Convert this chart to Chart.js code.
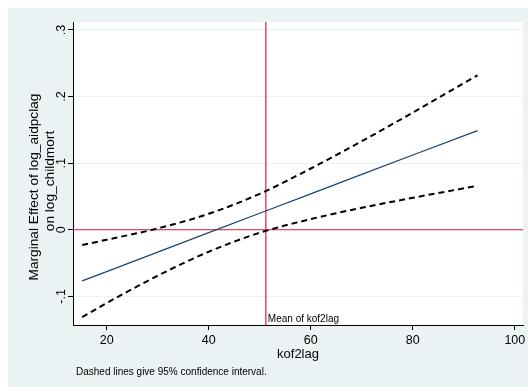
<!DOCTYPE html>
<html>
<head>
<meta charset="utf-8">
<script src="https://cdn.jsdelivr.net/npm/chart.js@4"></script>
<style>
  body { margin: 0; background: #fff; }
  canvas { display: block; }
</style>
</head>
<body>
<canvas id="me-chart" width="529" height="387"></canvas>
<script>
// values
const kof2lag = [15.2, 20, 30, 40, 50, 60, 70, 80, 92.7];
const effect = [-0.0767, -0.0627, -0.0335, -0.0044, 0.0248, 0.0540, 0.0832, 0.1123, 0.149];
const upperCI = [-0.023, -0.015, 0.002, 0.024, 0.054, 0.092, 0.133, 0.176, 0.232];
const lowerCI = [-0.131, -0.110, -0.069, -0.033, -0.0045, 0.016, 0.033, 0.048, 0.066];
const meanKof = 51.2;

const xTicks = [20, 40, 60, 80, 100];
const yTicks = [-0.1, 0, 0.1, 0.2, 0.3];
const yTickLabels = ['-.1', '0', '.1', '.2', '.3'];
const xRange = [13.4, 101.6];
const yRange = [-0.143, 0.312];

const FONT = "'Liberation Sans', Arial, Helvetica, sans-serif";
const BG = '#eaf2f3';
const RED = '#d81b45';

const pts = (ys) => kof2lag.map((x, i) => ({ x: x, y: ys[i] }));

// background + free text (axis titles, note, mean label)
const decor = {
  id: 'decor',
  beforeDraw(chart) {
    const c = chart.ctx, a = chart.chartArea;
    c.save();
    c.fillStyle = '#fff';
    c.fillRect(0, 0, chart.width, chart.height);
    c.fillStyle = BG;
    c.fillRect(8, 8, chart.width - 9, chart.height - 8);
    c.fillStyle = '#fff';
    c.fillRect(a.left, a.top, a.right - a.left, a.bottom - a.top);
    c.restore();
  },
  afterDraw(chart) {
    const c = chart.ctx;
    const xs = chart.scales.x;
    c.save();
    c.fillStyle = '#000';
    c.textBaseline = 'middle';
    c.textAlign = 'center';

    c.font = '13px ' + FONT;
    c.fillText('kof2lag', 298, 354);

    // two-line y title
    c.font = '13.7px ' + FONT;
    c.save();
    c.translate(34, 187);
    c.rotate(-Math.PI / 2);
    c.fillText('Marginal Effect of log_aidpclag', 0, 0);
    c.restore();
    c.save();
    c.translate(50, 181);
    c.rotate(-Math.PI / 2);
    c.fillText('on log_childmort', 0, 0);
    c.restore();

    c.textAlign = 'left';
    c.font = '10px ' + FONT;
    c.fillText('Dashed lines give 95% confidence interval.', 76, 372);

    c.textBaseline = 'alphabetic';
    c.fillText('Mean of kof2lag', xs.getPixelForValue(meanKof) + 2, 322);
    c.restore();
  }
};

new Chart(document.getElementById('me-chart'), {
  type: 'line',
  data: {
    datasets: [
      {
        data: pts(upperCI),
        borderColor: '#000',
        borderWidth: 2,
        borderDash: [6, 4],
        cubicInterpolationMode: 'monotone'
      },
      {
        data: pts(lowerCI),
        borderColor: '#000',
        borderWidth: 2,
        borderDash: [6, 4],
        cubicInterpolationMode: 'monotone'
      },
      {
        data: pts(effect),
        borderColor: '#1a476f',
        borderWidth: 1.3
      },
      {
        data: [{ x: xRange[0], y: 0 }, { x: xRange[1], y: 0 }],
        borderColor: RED,
        borderWidth: 1.2
      },
      {
        data: [{ x: meanKof, y: yRange[0] }, { x: meanKof, y: yRange[1] }],
        borderColor: RED,
        borderWidth: 1.2
      }
    ]
  },
  options: {
    responsive: false,
    animation: false,
    events: [],
    layout: { padding: { top: 22, right: 6, left: 0, bottom: 0 } },
    elements: { point: { radius: 0 } },
    plugins: {
      legend: { display: false },
      tooltip: { enabled: false }
    },
    scales: {
      x: {
        type: 'linear',
        min: xRange[0],
        max: xRange[1],
        afterBuildTicks: (s) => { s.ticks = xTicks.map(v => ({ value: v })); },
        afterFit: (s) => { s.height = 62; },
        grid: { drawOnChartArea: false, tickColor: '#000', tickLength: 5 },
        border: { color: '#000', width: 1 },
        ticks: {
          color: '#000',
          padding: 3,
          maxRotation: 0,
          font: { family: FONT, size: 12.5 }
        }
      },
      y: {
        type: 'linear',
        min: yRange[0],
        max: yRange[1],
        afterBuildTicks: (s) => { s.ticks = yTicks.map(v => ({ value: v })); },
        afterFit: (s) => { s.width = 73; },
        grid: { color: BG, tickColor: '#000', tickLength: 5 },
        border: { color: '#000', width: 1 },
        ticks: {
          color: '#000',
          padding: -1,
          minRotation: 90,
          maxRotation: 90,
          crossAlign: 'center',
          font: { family: FONT, size: 12.5 },
          callback: (v) => {
            const i = yTicks.findIndex(t => Math.abs(t - v) < 1e-9);
            return i >= 0 ? yTickLabels[i] : '';
          }
        }
      }
    }
  },
  plugins: [decor]
});
</script>
</body>
</html>
